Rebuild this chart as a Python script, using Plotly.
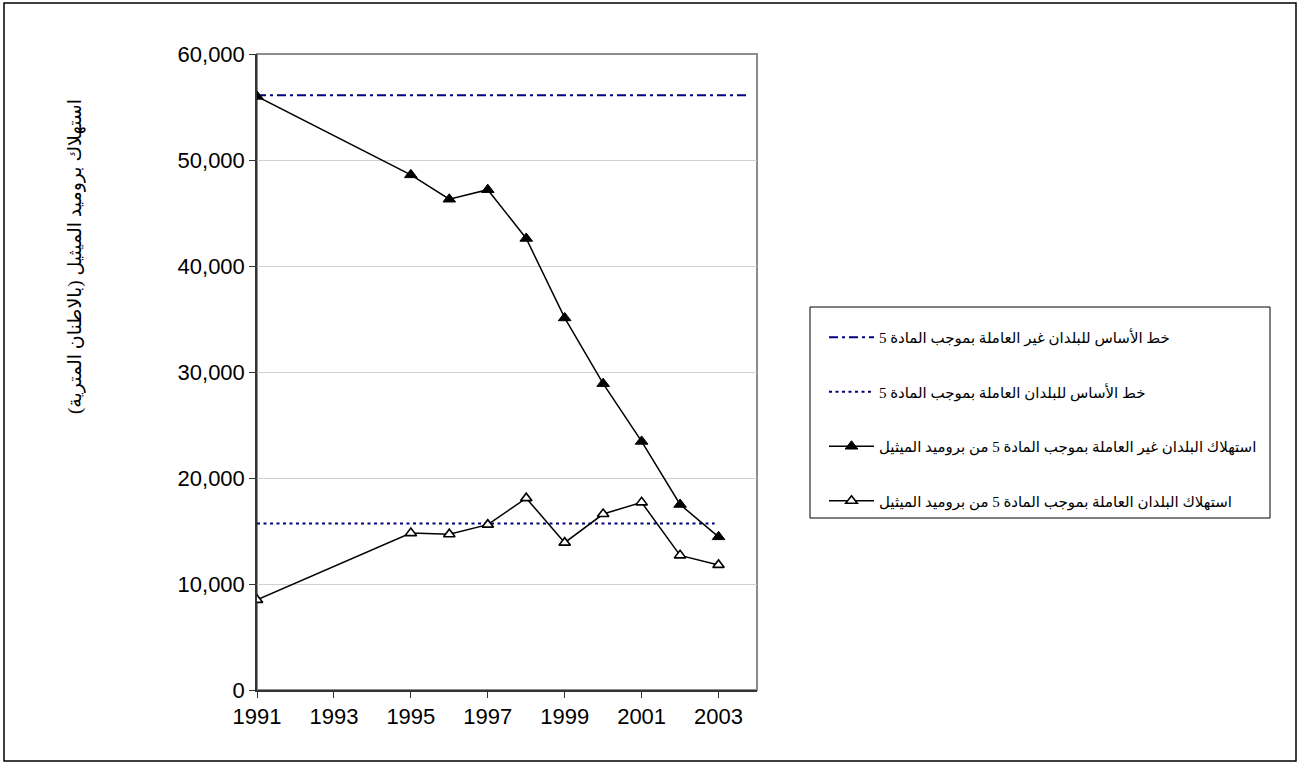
import plotly.graph_objects as go

# ---- data ----
years = [1991, 1995, 1996, 1997, 1998, 1999, 2000, 2001, 2002, 2003]
non_a5_consumption = [56000, 48600, 46300, 47200, 42600, 35100, 28900, 23450, 17500, 14450]
a5_consumption = [8500, 14800, 14700, 15600, 18100, 13900, 16600, 17700, 12700, 11800]
non_a5_baseline_years = [1991, 2003.77]
non_a5_baseline = [56100, 56100]
a5_baseline_years = [1991, 2002.9]
a5_baseline = [15700, 15700]

x_ticks = [1991, 1993, 1995, 1997, 1999, 2001, 2003]
y_ticks = [0, 10000, 20000, 30000, 40000, 50000, 60000]

names = [
    "خط الأساس للبلدان غير العاملة بموجب المادة 5",
    "خط الأساس للبلدان العاملة بموجب المادة 5",
    "استهلاك البلدان غير العاملة بموجب المادة 5 من بروميد الميثيل",
    "استهلاك البلدان العاملة بموجب المادة 5 من بروميد الميثيل",
]
y_title = "استهلاك بروميد الميثيل (بالاطنان المترية)"

ARABIC_FONT = "Liberation Serif, DejaVu Sans, serif"
NUM_FONT = "Liberation Sans, Arial, sans-serif"
NAVY = "#000080"

fig = go.Figure()
fig.add_trace(go.Scatter(
    x=non_a5_baseline_years, y=non_a5_baseline, mode="lines", name=names[0],
    line=dict(color=NAVY, width=2, dash="9px,4px,3px,4px"), legendgroup="a",
))
fig.add_trace(go.Scatter(
    x=a5_baseline_years, y=a5_baseline, mode="lines", name=names[1],
    line=dict(color=NAVY, width=2, dash="3px,3.5px"), legendgroup="b",
))
fig.add_trace(go.Scatter(
    x=years, y=non_a5_consumption, mode="lines+markers", name=names[2],
    line=dict(color="black", width=1.5),
    marker=dict(symbol="triangle-up", size=11, color="black", line=dict(color="black", width=1)),
    legendgroup="c",
))
fig.add_trace(go.Scatter(
    x=years, y=a5_consumption, mode="lines+markers", name=names[3],
    line=dict(color="black", width=1.5),
    marker=dict(symbol="triangle-up", size=10, color="white", line=dict(color="black", width=1.6)),
    legendgroup="d",
))

# plot-area border (grey) and outer chart border (black)
fig.add_shape(type="rect", xref="x domain", yref="y domain", x0=0, x1=1, y0=0, y1=1,
              line=dict(color="#8c8c8c", width=2), layer="below")
fig.add_shape(type="rect", xref="paper", yref="paper",
              x0=(4 - 257) / 500, x1=(1296 - 257) / 500,
              y0=(690 - 761) / 636, y1=(690 - 3) / 636,
              line=dict(color="black", width=1.5))
# legend box
fig.add_shape(type="rect", xref="paper", yref="paper",
              x0=(810 - 257) / 500, x1=(1270 - 257) / 500,
              y0=(690 - 518) / 636, y1=(690 - 307) / 636,
              line=dict(color="black", width=1), fillcolor="white", layer="below")

fig.add_annotation(text=y_title, textangle=-90, xref="paper", yref="paper",
                   x=(75 - 257) / 500, y=(690 - 257) / 636, showarrow=False,
                   font=dict(family=ARABIC_FONT, size=19, color="black"),
                   xanchor="center", yanchor="middle")

fig.update_layout(
    width=1301, height=766,
    margin=dict(l=257, r=544, t=54, b=76, autoexpand=False),
    paper_bgcolor="white", plot_bgcolor="white",
    showlegend=True,
    legend=dict(
        x=(824 - 257) / 500, y=(690 - 321) / 636, xanchor="left", yanchor="top",
        bgcolor="rgba(0,0,0,0)", borderwidth=0,
        font=dict(family=ARABIC_FONT, size=15, color="black"),
        tracegroupgap=32, traceorder="grouped", itemwidth=45,
    ),
    xaxis=dict(
        range=[1991, 2004], tickvals=x_ticks, ticktext=[str(v) for v in x_ticks],
        showgrid=False, zeroline=False, showline=True, linecolor="#333333", linewidth=1.5,
        ticks="outside", ticklen=6, tickcolor="#333333",
        tickfont=dict(family=NUM_FONT, size=22, color="black"),
    ),
    yaxis=dict(
        range=[0, 60000], tickvals=y_ticks, tickformat=",d",
        showgrid=True, gridcolor="#cfcfcf", gridwidth=1, zeroline=False,
        showline=True, linecolor="#333333", linewidth=1.5,
        ticks="outside", ticklen=6, tickcolor="#333333",
        tickfont=dict(family=NUM_FONT, size=22, color="black"),
    ),
)

fig.write_html("out.html", config={"displayModeBar": False},
               post_script="document.body.style.margin='0';")
